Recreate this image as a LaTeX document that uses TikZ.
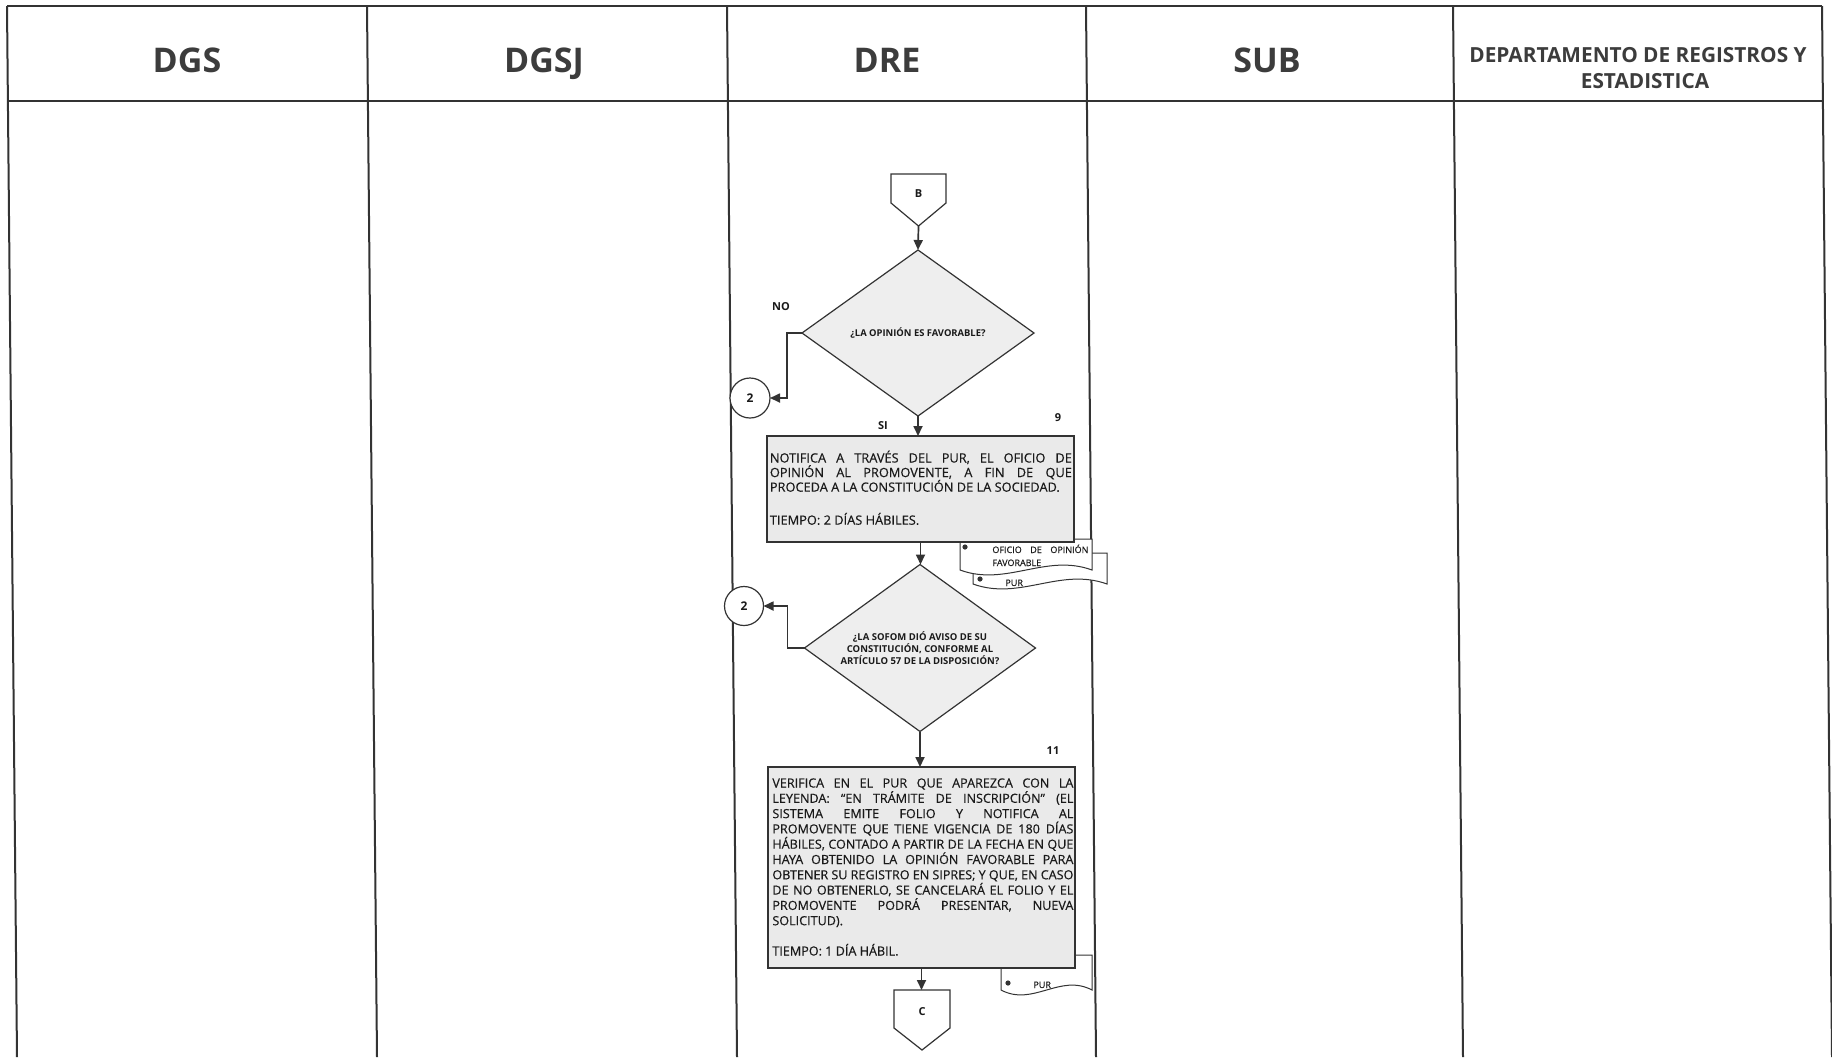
\documentclass[tikz,border=0pt]{standalone}
\usepackage{fontspec}
\setmainfont{Open Sans}
\newfontfamily\bodyfont{Open Sans}[FakeBold=0.4]
\usetikzlibrary{shapes.geometric,arrows.meta}
\definecolor{ln}{HTML}{333333}
\definecolor{hd}{HTML}{3C3C3C}
\definecolor{boxfill}{HTML}{EAEAEA}
\definecolor{dfill}{HTML}{EEEEEE}
\definecolor{txt}{HTML}{1A1A1A}
\begin{document}
\begin{tikzpicture}[x=0.5pt,y=-0.5pt,
  lane/.style={draw=ln, line width=1pt},
  hdr/.style={font=\fontsize{17}{20}\selectfont\bfseries, text=hd, anchor=base, inner sep=0},
  hdrsmall/.style={font=\fontsize{10.4}{13}\selectfont\bfseries, text=hd, anchor=base, inner sep=0},
  flow/.style={draw=ln, line width=0.85pt, -{Triangle[length=5pt,width=4.5pt]}},
  procbox/.style={draw=ln, line width=0.6pt, fill=boxfill, inner sep=0, outer sep=0},
  decision/.style={diamond, draw=ln, line width=0.6pt, fill=dfill, inner sep=0, outer sep=0},
  conn/.style={circle, draw=ln, line width=0.6pt, fill=white, inner sep=0, outer sep=0, font=\fontsize{6}{7}\selectfont\bfseries, text=txt},
  lbl/.style={font=\fontsize{5.5}{6}\selectfont\bfseries, text=txt, inner sep=0},
  doc/.style={draw=ln, line width=0.5pt, fill=white},
  doctxt/.style={font=\bodyfont\fontsize{4.5}{6.5}\selectfont, text=txt, inner sep=0, anchor=base west},
  bodytxt/.style={font=\bodyfont, text=txt, inner sep=0, anchor=base west},
  offpage/.style={draw=ln, line width=0.6pt, fill=white},
]
\useasboundingbox (0,0) rectangle (1832,1057);
\fill[white] (0,0) rectangle (1832,1057);

% lanes
\draw[lane, line width=1.3pt] (7,6) -- (1822,6);
\draw[lane] (7.9,101) -- (1822.9,101);
\foreach \a in {7,367,727,1086,1453,1822} \draw[lane] (\a,6) -- (\a+10,1057);

% headers
\node[hdr] (hdgs) at (187,72) {DGS};
\node[hdr] (hdgsj) at (544,72) {DGSJ};
\node[hdr] (hdre) at (887,72) {DRE};
\node[hdr] (hsub) at (1267,72) {SUB};
\node[hdrsmall] (hdep1) at (1638,62) {DEPARTAMENTO DE REGISTROS Y};
\node[hdrsmall] (hdep2) at (1645,88) {ESTADISTICA};

% B off-page connector
\draw[offpage] (891,174) -- (946,174) -- (946,203) -- (918.5,226) -- (891,203) -- cycle;
\node[lbl] (B) at (918.5,194) {B};
\coordinate (Btip) at (918.5,226);

% decision 1
\node[decision, minimum width=116pt, minimum height=83pt] (d1) at (918,333) {};
\node[font=\fontsize{4.7}{5}\selectfont\bfseries, text=txt, inner sep=0] (d1t) at (d1.center) {¿LA OPINIÓN ES FAVORABLE?};
\node[conn, minimum size=20pt] (c1) at (750,398) {2};
\node[lbl] (lno) at (781,307) {NO};
\node[lbl] (lsi) at (883,426) {SI};
\node[lbl] (l9) at (1058,418) {9};

% documents behind box 1
\draw[doc] (973,553) -- (1107,553) -- (1107,584) .. controls (1060,567) and (1020,601) .. (973,584) -- cycle;
\fill[ln] (980,579) circle (1.3pt);
\node[doctxt] (doc2t) at (1005,586) {PUR};
\draw[doc] (960,539) -- (1092,539) -- (1092,570) .. controls (1046,553) and (1006,587) .. (960,570) -- cycle;
\fill[ln] (965,547) circle (1.3pt);
\node[doctxt] (doc1t) at (992,553) {\parbox[t]{48pt}{\bodyfont\fontsize{4.5}{6.5}\selectfont\makebox[\linewidth][s]{OFICIO DE OPINIÓN}\\FAVORABLE}};

% box 1
\node[procbox, minimum width=153.5pt, minimum height=53pt] (box1) at (920.5,489) {};
\node[bodytxt] (t1) at (769.5,462.5) {\parbox[t]{151pt}{\bodyfont\fontsize{6.4}{7.3}\selectfont
\makebox[\linewidth][s]{NOTIFICA A TRAVÉS DEL PUR, EL OFICIO DE}\\
\makebox[\linewidth][s]{OPINIÓN AL PROMOVENTE, A FIN DE QUE}\\
PROCEDA A LA CONSTITUCIÓN DE LA SOCIEDAD.\\[9.2pt]
TIEMPO: 2 DÍAS HÁBILES.}};

% decision 2
\node[decision, minimum width=115.5pt, minimum height=83.5pt] (d2) at (920,648) {};
\node[font=\fontsize{4.75}{5.85}\selectfont\bfseries, text=txt, inner sep=0, align=center] (d2t) at (d2.center) {¿LA SOFOM DIÓ AVISO DE SU\\CONSTITUCIÓN, CONFORME AL\\ARTÍCULO 57 DE LA DISPOSICIÓN?};
\node[conn, minimum size=19.5pt] (c2) at (744,606) {2};
\node[lbl] (l11) at (1053,750.5) {11};

% document behind box 2
\draw[doc] (1001,955) -- (1092,955) -- (1092,990) .. controls (1060,973) and (1033,1007) .. (1001,990) -- cycle;
\fill[ln] (1008,983) circle (1.3pt);
\node[doctxt] (doc3t) at (1033,988) {PUR};

% box 2
\node[procbox, minimum width=153.5pt, minimum height=100.5pt] (box2) at (921.5,867.5) {};
\node[bodytxt] (t2) at (772,787.5) {\parbox[t]{150.5pt}{\bodyfont\fontsize{6.3}{7.65}\selectfont
\makebox[\linewidth][s]{VERIFICA EN EL PUR QUE APAREZCA CON LA}\\
\makebox[\linewidth][s]{LEYENDA: “EN TRÁMITE DE INSCRIPCIÓN” (EL}\\
\makebox[\linewidth][s]{SISTEMA EMITE FOLIO Y NOTIFICA AL}\\
\makebox[\linewidth][s]{PROMOVENTE QUE TIENE VIGENCIA DE 180 DÍAS}\\
\makebox[\linewidth][s]{HÁBILES, CONTADO A PARTIR DE LA FECHA EN QUE}\\
\makebox[\linewidth][s]{HAYA OBTENIDO LA OPINIÓN FAVORABLE PARA}\\
\makebox[\linewidth][s]{OBTENER SU REGISTRO EN SIPRES; Y QUE, EN CASO}\\
\makebox[\linewidth][s]{DE NO OBTENERLO, SE CANCELARÁ EL FOLIO Y EL}\\
\makebox[\linewidth][s]{PROMOVENTE PODRÁ PRESENTAR, NUEVA}\\
SOLICITUD).\\[7.5pt]
TIEMPO: 1 DÍA HÁBIL.}};

% C off-page connector
\draw[offpage] (894,990) -- (950,990) -- (950,1028) -- (922,1050) -- (894,1028) -- cycle;
\node[lbl] (C) at (922,1012) {C};
\coordinate (Ctop) at (921.5,990);

% connectors
\draw[flow] (Btip) -- (d1.north);
\draw[flow] (d1.south) -- (d1.south |- box1.north);
\draw[flow] (d1.west) -- ([xshift=-7.5pt]d1.west) |- (c1.east);
\draw[flow] (box1.south) -- (box1.south |- d2.north);
\draw[flow] (d2.west) -- ([xshift=-8.5pt]d2.west) |- (c2.east);
\draw[flow] (d2.south) -- (d2.south |- box2.north);
\draw[flow] (box2.south) -- (Ctop);
\end{tikzpicture}
\end{document}
